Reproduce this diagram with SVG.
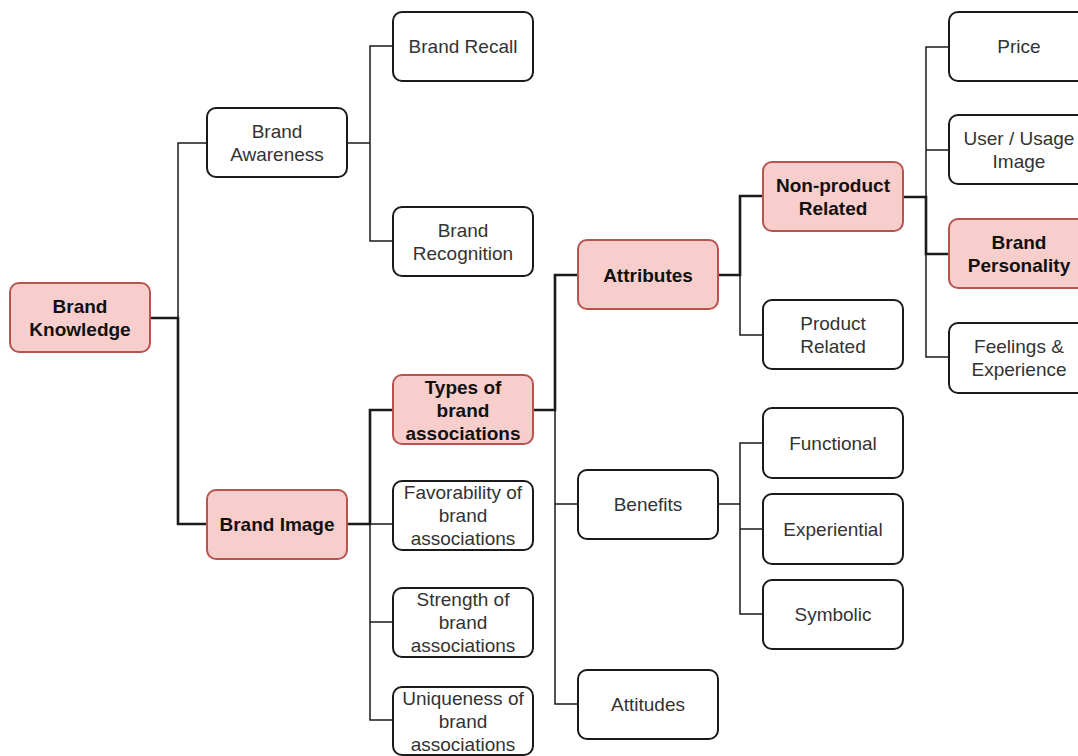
<svg xmlns="http://www.w3.org/2000/svg" width="1078" height="756" viewBox="0 0 1078 756">
<style>
.box{fill:#fff;stroke:#1a1a1a;stroke-width:2}
.hl{fill:#f8cecc;stroke:#b85450;stroke-width:2}
.t{font-family:"Liberation Sans",Arial,sans-serif;font-size:19px;fill:#333;text-anchor:middle}
.b{font-family:"Liberation Sans",Arial,sans-serif;font-size:19px;font-weight:bold;fill:#111;text-anchor:middle}
.thin{fill:none;stroke:#1a1a1a;stroke-width:1.5}
.thick{fill:none;stroke:#1a1a1a;stroke-width:2.6}
</style>
<rect width="1078" height="756" fill="#fff"/>
<g id="connectors">
<path class="thin" d="M178,318 V143 H207"/>
<path class="thick" d="M150,318 H178 V524 H207"/>
<path class="thin" d="M347,143 H370 V46 H393 M370,143 V241 H393"/>
<path class="thick" d="M347,524 H370 V410 H393"/>
<path class="thin" d="M370,524 H393 M370,524 V720 H393 M370,622 H393"/>
<path class="thick" d="M533,410 H555 V275 H578"/>
<path class="thin" d="M555,410 V704 H578 M555,504 H578"/>
<path class="thick" d="M718,275 H740 V196 H763"/>
<path class="thin" d="M740,275 V335 H763"/>
<path class="thick" d="M903,197 H926 V254 H949"/>
<path class="thin" d="M926,197 V47 H949 M926,150 H949 M926,254 V357 H949"/>
<path class="thin" d="M718,504 H740 V443 H763 M740,504 V614 H763 M740,529 H763"/>
</g>
<g id="brand-knowledge"><rect class="hl" x="10" y="283" width="140" height="69" rx="9"/><text class="b" x="80" y="313">Brand</text><text class="b" x="80" y="336">Knowledge</text></g>
<g id="brand-awareness"><rect class="box" x="207" y="108" width="140" height="69" rx="9"/><text class="t" x="277" y="138">Brand</text><text class="t" x="277" y="161">Awareness</text></g>
<g id="brand-recall"><rect class="box" x="393" y="12" width="140" height="69" rx="9"/><text class="t" x="463" y="53">Brand Recall</text></g>
<g id="brand-recognition"><rect class="box" x="393" y="207" width="140" height="69" rx="9"/><text class="t" x="463" y="237">Brand</text><text class="t" x="463" y="260">Recognition</text></g>
<g id="brand-image"><rect class="hl" x="207" y="490" width="140" height="69" rx="9"/><text class="b" x="277" y="531">Brand Image</text></g>
<g id="types"><rect class="hl" x="393" y="375" width="140" height="69" rx="9"/><text class="b" x="463" y="394">Types of</text><text class="b" x="463" y="417">brand</text><text class="b" x="463" y="440">associations</text></g>
<g id="favorability"><rect class="box" x="393" y="481" width="140" height="69" rx="9"/><text class="t" x="463" y="499">Favorability of</text><text class="t" x="463" y="522">brand</text><text class="t" x="463" y="545">associations</text></g>
<g id="strength"><rect class="box" x="393" y="588" width="140" height="69" rx="9"/><text class="t" x="463" y="606">Strength of</text><text class="t" x="463" y="629">brand</text><text class="t" x="463" y="652">associations</text></g>
<g id="uniqueness"><rect class="box" x="393" y="687" width="140" height="68" rx="9"/><text class="t" x="463" y="705">Uniqueness of</text><text class="t" x="463" y="728">brand</text><text class="t" x="463" y="751">associations</text></g>
<g id="attributes"><rect class="hl" x="578" y="240" width="140" height="69" rx="9"/><text class="b" x="648" y="282">Attributes</text></g>
<g id="benefits"><rect class="box" x="578" y="470" width="140" height="69" rx="9"/><text class="t" x="648" y="511">Benefits</text></g>
<g id="attitudes"><rect class="box" x="578" y="670" width="140" height="69" rx="9"/><text class="t" x="648" y="711">Attitudes</text></g>
<g id="non-product"><rect class="hl" x="763" y="162" width="140" height="69" rx="9"/><text class="b" x="833" y="192">Non-product</text><text class="b" x="833" y="215">Related</text></g>
<g id="product"><rect class="box" x="763" y="300" width="140" height="69" rx="9"/><text class="t" x="833" y="330">Product</text><text class="t" x="833" y="353">Related</text></g>
<g id="functional"><rect class="box" x="763" y="408" width="140" height="70" rx="9"/><text class="t" x="833" y="450">Functional</text></g>
<g id="experiential"><rect class="box" x="763" y="494" width="140" height="70" rx="9"/><text class="t" x="833" y="536">Experiential</text></g>
<g id="symbolic"><rect class="box" x="763" y="580" width="140" height="69" rx="9"/><text class="t" x="833" y="621">Symbolic</text></g>
<g id="price"><rect class="box" x="949" y="12" width="140" height="69" rx="9"/><text class="t" x="1019" y="53">Price</text></g>
<g id="user-usage"><rect class="box" x="949" y="115" width="140" height="69" rx="9"/><text class="t" x="1019" y="145">User / Usage</text><text class="t" x="1019" y="168">Image</text></g>
<g id="brand-personality"><rect class="hl" x="949" y="219" width="140" height="69" rx="9"/><text class="b" x="1019" y="249">Brand</text><text class="b" x="1019" y="272">Personality</text></g>
<g id="feelings"><rect class="box" x="949" y="323" width="140" height="70" rx="9"/><text class="t" x="1019" y="353">Feelings &amp;</text><text class="t" x="1019" y="376">Experience</text></g>
</svg>
